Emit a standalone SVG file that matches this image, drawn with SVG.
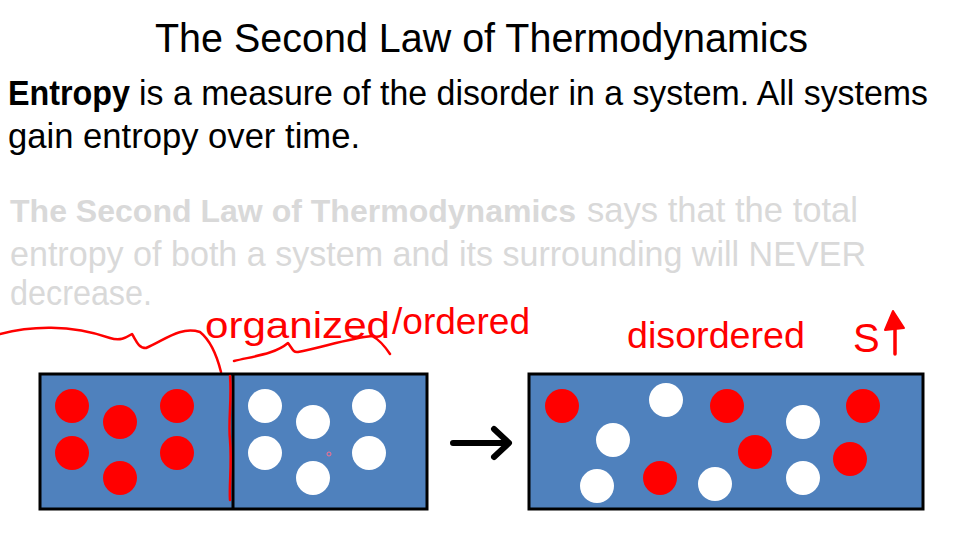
<svg xmlns="http://www.w3.org/2000/svg" width="960" height="540" viewBox="0 0 960 540">
<style>
.t{font-family:"Liberation Sans","DejaVu Sans",sans-serif;}
.blk{fill:#000;}
.gry{fill:#d9d9d9;}
.hand{font-family:"Liberation Sans","DejaVu Sans",sans-serif;fill:#ff0000;}
.box{fill:#4f81bd;stroke:#000;stroke-width:3;}
.r{fill:#ff0000;}
.w{fill:#ffffff;}
.ink{fill:none;stroke:#ff0000;stroke-width:2.5;stroke-linecap:round;stroke-linejoin:round;}
.arr{fill:none;stroke:#000;stroke-width:6;stroke-linecap:round;stroke-linejoin:round;}
</style>
<rect width="960" height="540" fill="#fff"/>
<g id="title"><text class="t blk" x="155" y="52" font-size="40" textLength="653" lengthAdjust="spacingAndGlyphs">The Second Law of Thermodynamics</text></g>
<g id="definition">
<text class="t blk" x="8" y="105" font-size="35" font-weight="bold" textLength="122" lengthAdjust="spacingAndGlyphs">Entropy</text>
<text class="t blk" x="139" y="105" font-size="35" textLength="789" lengthAdjust="spacingAndGlyphs">is a measure of the disorder in a system. All systems</text>
<text class="t blk" x="8" y="148" font-size="35" textLength="352" lengthAdjust="spacingAndGlyphs">gain entropy over time.</text>
</g>
<g id="law">
<text class="t gry" x="10" y="222" font-size="32" font-weight="bold" textLength="566" lengthAdjust="spacingAndGlyphs">The Second Law of Thermodynamics</text>
<text class="t gry" x="587" y="222" font-size="35" textLength="271" lengthAdjust="spacingAndGlyphs">says that the total</text>
<text class="t gry" x="10" y="266" font-size="35" textLength="856" lengthAdjust="spacingAndGlyphs">entropy of both a system and its surrounding will NEVER</text>
<text class="t gry" x="10" y="305" font-size="35" textLength="142" lengthAdjust="spacingAndGlyphs">decrease.</text>
</g>
<g id="annotation-ordered">
<path class="ink" d="M0,334 C30,326 70,324 110,338 C122,342 128,336 132,334 C136,340 138,348 146,348 C165,340 180,326 200,332 C210,340 216,352 221,372"/>
<path class="ink" d="M234,361 C255,356 275,354 288,343 C292,348 293,353 298,352 C320,348 350,338 372,336 C380,340 386,348 390,354"/>
<text class="hand" x="205" y="338" font-size="36" textLength="185" lengthAdjust="spacingAndGlyphs">organized</text>
<text class="hand" x="392" y="334" font-size="36" textLength="138" lengthAdjust="spacingAndGlyphs">/ordered</text>
</g>
<g id="annotation-disordered">
<text class="hand" x="627" y="348" font-size="36" textLength="178" lengthAdjust="spacingAndGlyphs">disordered</text>
<text class="hand" x="853" y="352" font-size="40">S</text>
<path d="M895,354 L895,318" fill="none" stroke="#ff0000" stroke-width="3.5" stroke-linecap="round"/>
<path d="M885,330 L893,311 L904,328 Z" fill="#ff0000" stroke="#ff0000" stroke-width="2" stroke-linejoin="round"/>
</g>
<g id="ordered-box">
<rect class="box" x="40" y="374" width="387" height="135"/>
<line x1="233" y1="374" x2="233" y2="509" stroke="#000" stroke-width="3"/>
<path class="ink" d="M230,376 C232,400 228,420 230,440 C232,465 229,485 230,500" stroke-width="3"/>
<circle class="r" cx="72" cy="406" r="17"/>
<circle class="r" cx="120" cy="422" r="17"/>
<circle class="r" cx="177" cy="406" r="17"/>
<circle class="r" cx="72" cy="453" r="17"/>
<circle class="r" cx="120" cy="478" r="17"/>
<circle class="r" cx="177" cy="453" r="17"/>
<circle class="w" cx="265" cy="406" r="17"/>
<circle class="w" cx="313" cy="422" r="17"/>
<circle class="w" cx="369" cy="406" r="17"/>
<circle class="w" cx="265" cy="453" r="17"/>
<circle class="w" cx="313" cy="478" r="17"/>
<circle class="w" cx="369" cy="453" r="17"/>
<circle cx="329" cy="454" r="2" fill="none" stroke="#ff6f8f" stroke-width="1"/>
</g>
<g id="connectors">
<path class="arr" d="M453,443 L508,443 M494,429 L509,443 L494,457"/>
</g>
<g id="disordered-box">
<rect class="box" x="529" y="374" width="394" height="135"/>
<circle class="r" cx="562" cy="406" r="17"/>
<circle class="w" cx="666" cy="400" r="17"/>
<circle class="r" cx="727" cy="406" r="17"/>
<circle class="w" cx="803" cy="422" r="17"/>
<circle class="r" cx="863" cy="406" r="17"/>
<circle class="w" cx="613" cy="440" r="17"/>
<circle class="r" cx="755" cy="452" r="17"/>
<circle class="r" cx="850" cy="459" r="17"/>
<circle class="w" cx="597" cy="486" r="17"/>
<circle class="r" cx="660" cy="478" r="17"/>
<circle class="w" cx="715" cy="484" r="17"/>
<circle class="w" cx="803" cy="478" r="17"/>
</g>
</svg>
